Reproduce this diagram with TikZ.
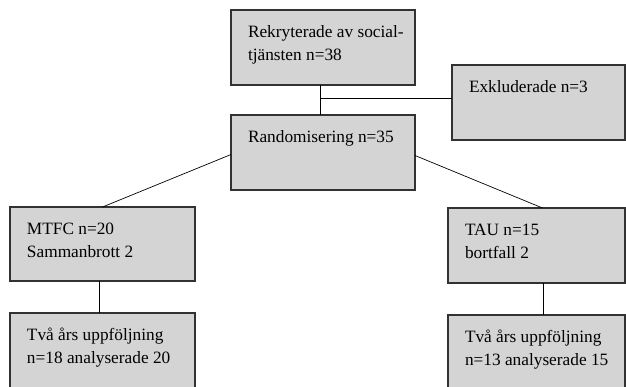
\documentclass[tikz,border=0pt]{standalone}
\usepackage{fontspec}
\setmainfont{Liberation Serif}
\usetikzlibrary{calc}
\definecolor{boxfill}{RGB}{212,212,212}
\definecolor{boxline}{RGB}{50,50,50}
\newcommand\boxtxt[3]{\parbox[c][#2][t]{#1}{\leftskip=17pt\relax\vspace*{15pt}\fontsize{17.3}{23}\selectfont\rule{0pt}{12pt}#3}}
\tikzset{
  flowbox/.style={draw=boxline, line width=1.1pt, fill=boxfill, inner sep=0pt, anchor=north west, outer sep=0pt},
  conn/.style={draw=black, line width=0.7pt}
}
\begin{document}
\begin{tikzpicture}[x=1pt,y=-1pt]
\useasboundingbox (0,0) rectangle (626,386);
\clip (0,0) rectangle (626,386);
\node[flowbox] (rekr) at (231,10) {\boxtxt{184pt}{75pt}{Rekryterade av social-\\tjänsten n=38}};
\node[flowbox] (rand) at (231,115) {\boxtxt{184pt}{75pt}{Randomisering n=35}};
\node[flowbox] (ex) at (452,65) {\boxtxt{173pt}{75pt}{Exkluderade n=3}};
\node[flowbox] (mtfc) at (10,207) {\boxtxt{185pt}{74pt}{MTFC n=20\\Sammanbrott 2}};
\node[flowbox] (tau) at (448,208) {\boxtxt{177pt}{75pt}{TAU n=15\\bortfall 2}};
\node[flowbox] (mf) at (10,313) {\boxtxt{185pt}{85pt}{Två års uppföljning\\n=18 analyserade 20}};
\node[flowbox] (tf) at (448,315) {\boxtxt{177pt}{85pt}{Två års uppföljning\\n=13 analyserade 15}};
\coordinate (j) at (320,98);
\draw[conn] ([xshift=-3pt]rekr.south) -- ([xshift=-3pt]rand.north);
\draw[conn] (j) -- (j -| ex.west);
\draw[conn] ([yshift=-2pt]rand.west) -- (mtfc.north);
\draw[conn] ([yshift=-3pt]rand.east) -- ([xshift=6pt]tau.north);
\draw[conn] ([xshift=-3pt]mtfc.south) -- ([xshift=-3pt]mf.north);
\draw[conn] ([xshift=7pt]tau.south) -- ([xshift=7pt]tf.north);
\end{tikzpicture}
\end{document}
